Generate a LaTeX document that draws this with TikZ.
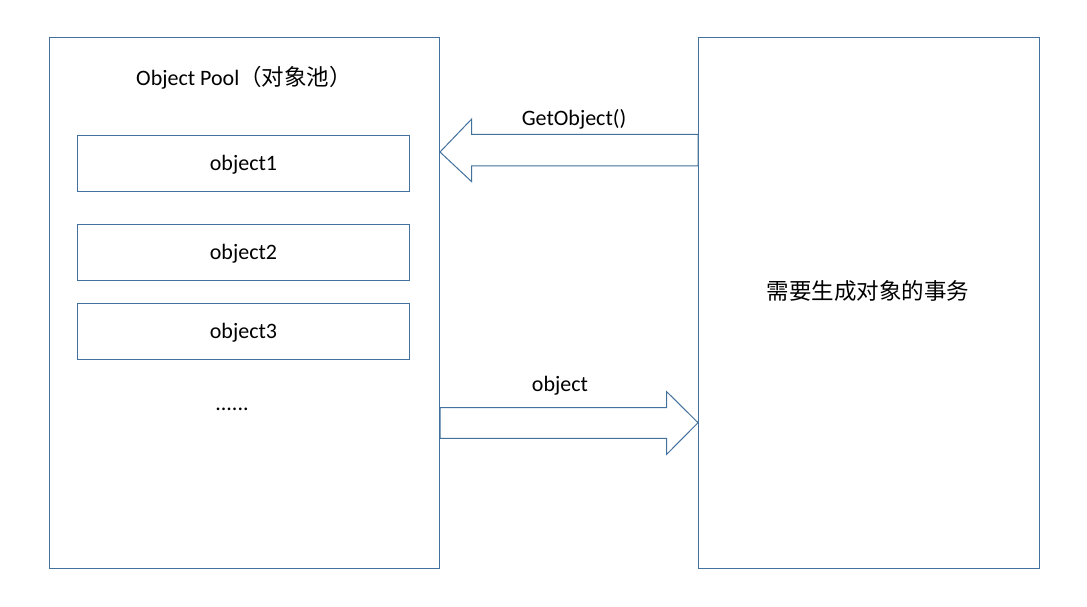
\documentclass[tikz,border=0pt]{standalone}
\usepackage{fontspec}
\setmainfont{Carlito}
\newfontfamily\cjk{Noto Sans CJK SC}
\definecolor{boxblue}{HTML}{41719C}
\tikzset{
    box/.style={draw=boxblue, line width=1pt, rectangle, inner sep=0pt, anchor=north west},
    txt/.style={font=\fontsize{22}{26}\selectfont, inner sep=0pt},
    blk/.style={draw=boxblue, line width=1pt, fill=white, line join=miter}
}
\begin{document}
\begin{tikzpicture}[x=1pt, y=-1pt]
    \useasboundingbox[fill=white] (0,0) rectangle (1087,607);
    % the two big boxes
    \node[box, minimum width=390pt, minimum height=531pt] (pool) at (49,37) {};
    \node[box, minimum width=341pt, minimum height=531pt] (task) at (698,37) {};
    \node[txt, anchor=west] (title) at (136,78) {Object Pool{\cjk\fontsize{22.5}{26}\selectfont （对象池）}};
    \node[txt] (tasktext) at (868,291) {\cjk\fontsize{22.5}{26}\selectfont 需要生成对象的事务};
    % objects in the pool
    \node[box, minimum width=332pt, minimum height=56pt] (obj1) at (77,135) {};
    \node[box, minimum width=332pt, minimum height=56pt] (obj2) at (77,224) {};
    \node[box, minimum width=332pt, minimum height=56pt] (obj3) at (77,303) {};
    \node[txt, yshift=-1.5pt] at (obj1.center) {object1};
    \node[txt, yshift=-1.5pt] at (obj2.center) {object2};
    \node[txt, yshift=-1.5pt] at (obj3.center) {object3};
    \node[txt] (dots) at (232,409) {......};
    % block arrows
    \draw[blk] (pool.east |- 0,152) -- (471.7,119) -- (471.7,134.3) -- (task.west |- 0,134.3)
        -- (task.west |- 0,166) -- (471.7,166) -- (471.7,181.7) -- cycle;
    \draw[blk] (pool.east |- 0,407.7) -- (666.7,407.7) -- (666.7,391.7) -- (task.west |- 0,422.7)
        -- (666.7,454.3) -- (666.7,438.3) -- (pool.east |- 0,438.3) -- cycle;
    \node[txt] (getlbl) at (574,119) {GetObject()};
    \node[txt] (objlbl) at (560,386) {object};
\end{tikzpicture}
\end{document}
